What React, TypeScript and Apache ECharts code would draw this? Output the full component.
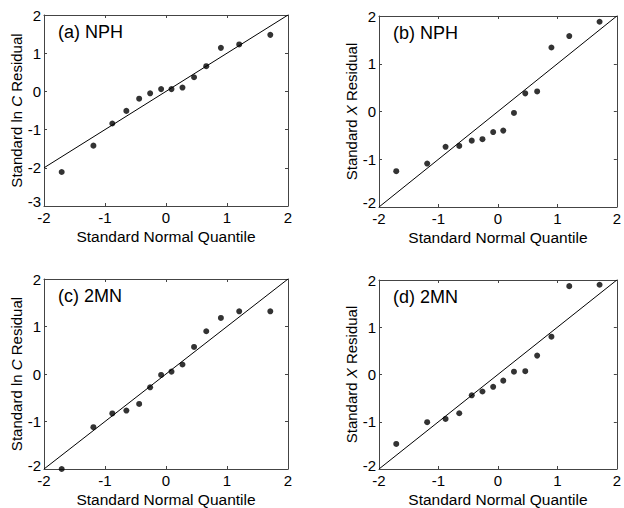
import React, { useEffect, useRef } from "react";
import * as echarts from "echarts";

const quantiles = [-1.71, -1.19, -0.88, -0.65, -0.44, -0.26, -0.08, 0.09, 0.27, 0.46, 0.66, 0.9, 1.2, 1.71];
const residA = [-2.11, -1.42, -0.84, -0.51, -0.19, -0.05, 0.06, 0.06, 0.1, 0.37, 0.66, 1.14, 1.23, 1.48];
const residB = [-1.25, -1.09, -0.74, -0.72, -0.61, -0.58, -0.43, -0.4, -0.03, 0.38, 0.42, 1.34, 1.58, 1.88];
const residC = [-2.0, -1.12, -0.83, -0.77, -0.63, -0.28, -0.02, 0.05, 0.2, 0.57, 0.9, 1.18, 1.32, 1.32];
const residD = [-1.47, -1.01, -0.94, -0.82, -0.44, -0.36, -0.26, -0.13, 0.06, 0.07, 0.4, 0.8, 1.87, 1.9];
const refLine = [[-2, -2], [2, 2]];
const panelTitles = ["(a) NPH", "(b) NPH", "(c) 2MN", "(d) 2MN"];
const yTitles = ["Standard ln {i|C} Residual", "Standard {i|X} Residual", "Standard ln {i|C} Residual", "Standard {i|X} Residual"];
const xTitle = "Standard Normal Quantile";
const yMins = [-3, -2, -2, -2];

const grids = [
  { left: 44, top: 15, width: 244, height: 191 },
  { left: 379, top: 16, width: 243, height: 191 },
  { left: 44, top: 279, width: 244, height: 191 },
  { left: 379, top: 280, width: 243, height: 190 },
];

const FONT = "Liberation Sans, Arial, sans-serif";

export default function App() {
  const ref = useRef<HTMLDivElement>(null);
  useEffect(() => {
    if (!ref.current) return;
    const chart = echarts.init(ref.current, null, { renderer: "svg" });
    const residuals = [residA, residB, residC, residD];
    const xAxes: any[] = [];
    const yAxes: any[] = [];
    const series: any[] = [];
    const graphics: any[] = [];
    const axisLine = { show: true, onZero: false, lineStyle: { color: "#444", width: 1 } };
    const tick = { show: true, inside: true, length: 3, lineStyle: { color: "#444" } };
    grids.forEach((g, i) => {
      xAxes.push({
        gridIndex: i, type: "value", min: -2, max: 2, interval: 1, position: "bottom",
        axisLine, axisTick: tick, splitLine: { show: false },
        axisLabel: { color: "#000", fontSize: 15, fontFamily: FONT, margin: 4 },
        name: xTitle, nameLocation: "middle", nameGap: 22,
        nameTextStyle: { color: "#000", fontSize: 15.5, fontFamily: FONT },
      });
      xAxes.push({
        gridIndex: i, type: "value", min: -2, max: 2, interval: 1, position: "top",
        axisLine, axisTick: tick, splitLine: { show: false }, axisLabel: { show: false },
      });
      yAxes.push({
        gridIndex: i, type: "value", min: yMins[i], max: 2, interval: 1, position: "left",
        axisLine, axisTick: tick, splitLine: { show: false },
        axisLabel: { color: "#000", fontSize: 15, fontFamily: FONT, margin: 3, showMinLabel: false },
        name: yTitles[i], nameLocation: "middle", nameGap: 20,
        nameTextStyle: { color: "#000", fontSize: 15, fontFamily: FONT, rich: { i: { fontStyle: "italic", fontSize: 15, fontFamily: FONT, color: "#000" } } },
      });
      yAxes.push({
        gridIndex: i, type: "value", min: yMins[i], max: 2, interval: 1, position: "right",
        axisLine, axisTick: tick, splitLine: { show: false }, axisLabel: { show: false },
      });
      series.push({
        type: "line", xAxisIndex: 2 * i, yAxisIndex: 2 * i, data: refLine,
        showSymbol: false, symbol: "none", lineStyle: { color: "#000", width: 1 }, silent: true,
      });
      series.push({
        type: "scatter", xAxisIndex: 2 * i, yAxisIndex: 2 * i,
        data: quantiles.map((q, k) => [q, residuals[i][k]]),
        symbol: "circle", symbolSize: 6, itemStyle: { color: "#000" },
      });
      graphics.push({
        type: "text", left: g.left + 14, top: g.top + 8,
        style: { text: panelTitles[i], fontSize: 18, fontFamily: FONT, fill: "#000" },
      });
      graphics.push({
        type: "text", x: g.left - 3, y: g.top + g.height - 5,
        style: { text: String(yMins[i]), fontSize: 15, fontFamily: FONT, fill: "#000", align: "right", verticalAlign: "middle" },
      });
    });
    chart.setOption({
      animation: false,
      backgroundColor: "#fff",
      grid: grids.map((g) => ({ ...g, containLabel: false })),
      xAxis: xAxes,
      yAxis: yAxes,
      series,
      graphic: graphics,
    });
    return () => chart.dispose();
  }, []);
  return <div ref={ref} style={{ position: "fixed", left: 0, top: 0, width: 624, height: 508 }} />;
}
